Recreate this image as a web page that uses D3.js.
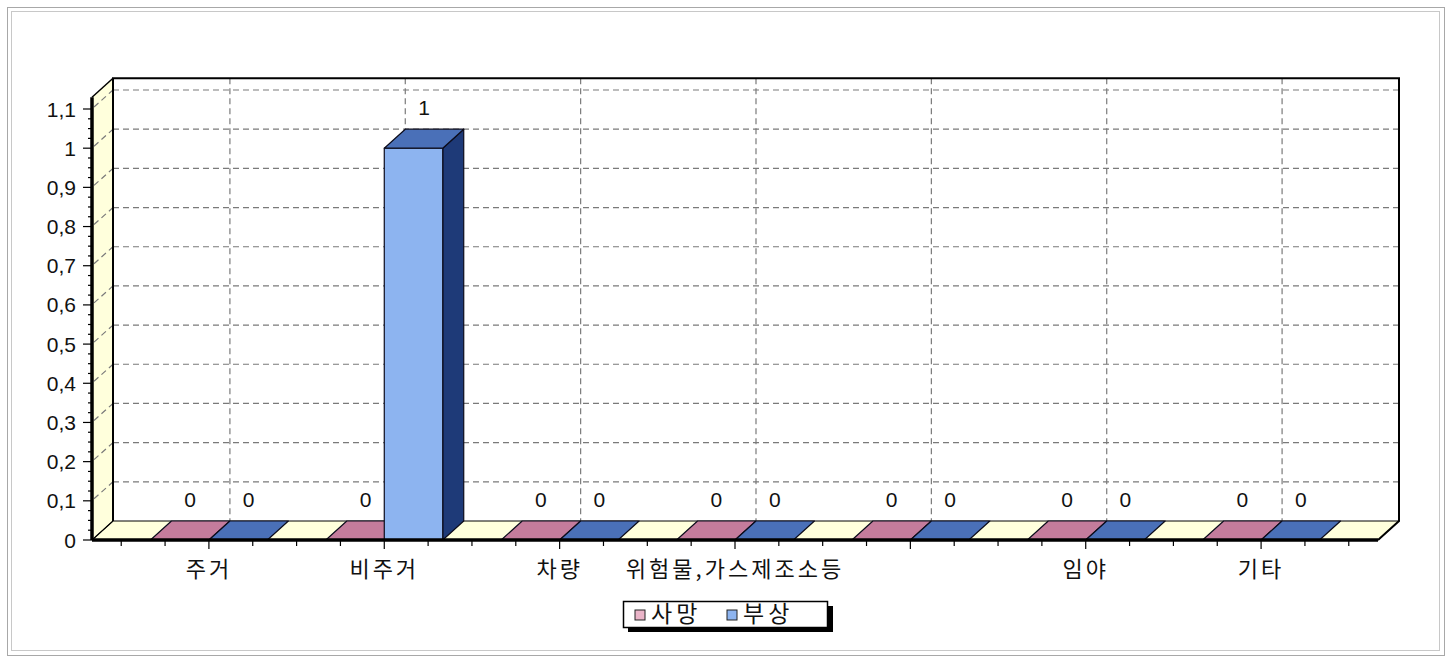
<!DOCTYPE html>
<html>
<head>
<meta charset="utf-8">
<script src="https://cdn.jsdelivr.net/npm/d3@7"></script>
<style>
  html, body { margin: 0; padding: 0; background: #fff; }
  svg { display: block; }
  text { font-family: "Liberation Sans", "Noto Sans CJK KR", sans-serif; fill: #111; }
  .kr { font-family: "Noto Sans CJK KR", sans-serif; }
</style>
</head>
<body>
<svg id="chart" width="1453" height="660"></svg>
<script>
// 3D-style grouped bar chart (fire casualties by category)
const categories = ['주거', '비주거', '차량', '위험물,가스제조소등', '', '임야', '기타'];
const seriesNames = ['사망', '부상'];
const deaths   = [0, 0, 0, 0, 0, 0, 0];
const injuries = [0, 1, 0, 0, 0, 0, 0];
const yTicks = [0, 0.1, 0.2, 0.3, 0.4, 0.5, 0.6, 0.7, 0.8, 0.9, 1, 1.1];

const colors = {
  '사망': { front: '#eab4c8', top: '#c47c9c', side: '#8c4c6c' },
  '부상': { front: '#8db4f0', top: '#4a70b8', side: '#1e3a78' }
};
const wallColor = '#ffffdc';

const svg = d3.select('#chart');

// plot geometry (front plane) and depth offset
const left = 92, right = 1378, bottom = 540;
const DX = 21, DY = -19;

const y = d3.scaleLinear().domain([0, 1.1]).range([bottom, 109]);
const yTop = y(1.13);

const x0 = d3.scaleBand().domain(categories.map((c, i) => i))
  .range([left, right]).paddingInner(1 / 3).paddingOuter(1 / 3);
const x1 = d3.scaleBand().domain(seriesNames).range([0, x0.bandwidth()]);
const step = x0.step();

const rows = categories.map((c, i) => ({ i, name: c, values: [deaths[i], injuries[i]] }));

// outer frame
svg.append('rect').attr('x', 7.5).attr('y', 7.5).attr('width', 1437).attr('height', 648)
  .attr('fill', 'none').attr('stroke', '#a8a8a8');
svg.append('rect').attr('x', 11.5).attr('y', 11.5).attr('width', 1428).attr('height', 639)
  .attr('fill', 'none').attr('stroke', '#c8c8c8');

const g = svg.append('g');
const line = d3.line();

// back wall
g.append('rect').attr('x', left + DX).attr('y', yTop + DY)
  .attr('width', right - left).attr('height', bottom - yTop)
  .attr('fill', '#fff');

// left side wall
g.append('path')
  .attr('d', line([[left, bottom], [left, yTop], [left + DX, yTop + DY], [left + DX, bottom + DY]]) + 'Z')
  .attr('fill', wallColor);

// floor
g.append('path')
  .attr('d', line([[left, bottom], [right, bottom], [right + DX, bottom + DY], [left + DX, bottom + DY]]) + 'Z')
  .attr('fill', wallColor).attr('stroke', '#000').attr('stroke-width', 1);

// gridlines
const grid = g.append('g').attr('stroke', '#7a7a7a').attr('stroke-width', 1.2)
  .attr('stroke-dasharray', '6,4').attr('fill', 'none');
yTicks.filter(t => t > 0).forEach(t => {
  grid.append('path').attr('d', line([[left + DX, y(t) + DY], [right + DX, y(t) + DY]]));
  grid.append('path').attr('d', line([[left + 2, y(t) - 2], [left + DX, y(t) + DY]]));
});
rows.forEach(r => {
  const cx = x0(r.i) + x0.bandwidth() / 2 + DX;
  grid.append('path').attr('d', line([[cx, yTop + DY], [cx, bottom + DY]]));
});

// back wall borders
g.append('path')
  .attr('d', line([[left + DX, bottom + DY], [left + DX, yTop + DY], [right + DX, yTop + DY], [right + DX, bottom + DY], [right, bottom]]))
  .attr('fill', 'none').attr('stroke', '#000').attr('stroke-width', 2);
g.append('path')
  .attr('d', line([[left, yTop], [left + DX, yTop + DY]]))
  .attr('fill', 'none').attr('stroke', '#000').attr('stroke-width', 1.5);
g.append('path')
  .attr('d', line([[left, bottom], [left + DX, bottom + DY]]))
  .attr('fill', 'none').attr('stroke', '#000').attr('stroke-width', 1.2);

// bars
const bars = g.append('g').attr('stroke', '#0c0c1c').attr('stroke-width', 1.2).attr('stroke-linejoin', 'round');
rows.forEach(r => {
  seriesNames.forEach((s, k) => {
    const v = r.values[k];
    const xl = x0(r.i) + x1(s), xr = xl + x1.bandwidth();
    const yt = y(v);
    const c = colors[s];
    if (v > 0) {
      bars.append('path').attr('fill', c.side)
        .attr('d', line([[xr, bottom], [xr, yt], [xr + DX, yt + DY], [xr + DX, bottom + DY]]) + 'Z');
      bars.append('rect').attr('x', xl).attr('y', yt).attr('width', xr - xl).attr('height', bottom - yt)
        .attr('fill', c.front);
    }
    bars.append('path').attr('fill', c.top)
      .attr('d', line([[xl, yt], [xr, yt], [xr + DX, yt + DY], [xl + DX, yt + DY]]) + 'Z');
  });
});

// value labels
rows.forEach(r => {
  seriesNames.forEach((s, k) => {
    const v = r.values[k];
    g.append('text')
      .attr('x', x0(r.i) + x1(s) + x1.bandwidth() / 2 + DX / 2)
      .attr('y', y(v) + DY - 14)
      .attr('text-anchor', 'middle')
      .attr('font-size', 21)
      .text(v);
  });
});

// front axes (thick)
g.append('path').attr('d', line([[left, yTop], [left, bottom]]))
  .attr('stroke', '#000').attr('stroke-width', 3.5).attr('fill', 'none');
g.append('path').attr('d', line([[left, bottom], [right, bottom]]))
  .attr('stroke', '#000').attr('stroke-width', 3.5).attr('fill', 'none');

// y ticks and labels
const yAxis = g.append('g');
d3.range(0, 45).map(i => i * 0.025).forEach((t, i) => {
  const major = i % 4 === 0;
  yAxis.append('line').attr('x1', left - (major ? 9 : 4)).attr('x2', left)
    .attr('y1', y(t)).attr('y2', y(t)).attr('stroke', '#000').attr('stroke-width', 1.2);
});
const fmt = t => Number.isInteger(t) ? String(t) : t.toFixed(1).replace('.', ',');
yTicks.forEach(t => {
  yAxis.append('text').attr('x', 76).attr('y', y(t)).attr('dy', '0.36em')
    .attr('text-anchor', 'end').attr('font-size', 21).text(fmt(t));
});

// x ticks
const xAxis = g.append('g');
rows.forEach(r => {
  const cx = x0(r.i) + x0.bandwidth() / 2;
  const js = r.i === rows.length - 1 ? [-2, -1, 0, 1, 2] : [-2, -1, 0, 1];
  js.forEach(j => {
    xAxis.append('line').attr('x1', cx + j * step / 4).attr('x2', cx + j * step / 4)
      .attr('y1', bottom).attr('y2', bottom + (j === 0 ? 9 : 6))
      .attr('stroke', '#000').attr('stroke-width', 1.2);
  });
  xAxis.append('text').attr('class', 'kr')
    .attr('x', cx).attr('y', 569).attr('dy', '0.36em')
    .attr('text-anchor', 'middle').attr('font-size', 22).attr('letter-spacing', 3)
    .text(r.name);
});

// legend
const lg = svg.append('g').attr('transform', 'translate(623,601)');
lg.append('rect').attr('x', 5).attr('y', 5).attr('width', 205).attr('height', 26).attr('fill', '#000');
lg.append('rect').attr('x', 0.5).attr('y', 0.5).attr('width', 204).attr('height', 26)
  .attr('fill', '#fff').attr('stroke', '#000').attr('stroke-width', 1.5);
const legendX = [12, 104];
seriesNames.forEach((s, k) => {
  lg.append('rect').attr('x', legendX[k]).attr('y', 9).attr('width', 10).attr('height', 10)
    .attr('fill', colors[s].front).attr('stroke', '#222');
  lg.append('text').attr('class', 'kr').attr('x', legendX[k] + 16).attr('y', 13).attr('dy', '0.36em')
    .attr('font-size', 23).attr('letter-spacing', 4).text(s);
});
</script>
</body>
</html>
